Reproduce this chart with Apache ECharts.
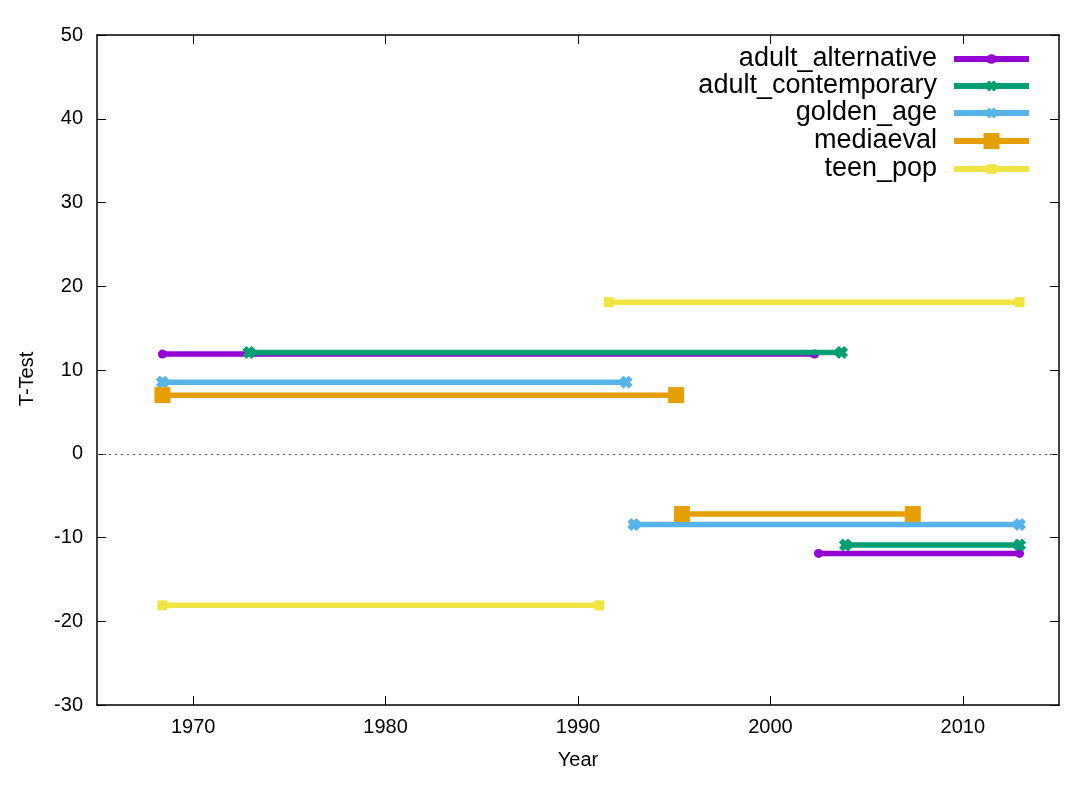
<!DOCTYPE html>
<html><head><meta charset="utf-8">
<script src="https://cdn.jsdelivr.net/npm/echarts@6/dist/echarts.min.js"></script>
<style>html,body{margin:0;padding:0;background:#fff}#c{width:1092px;height:788px}</style>
</head><body><div id="c"></div>
<script>
// Series names and colours
const seriesNames = ['adult_alternative','adult_contemporary','golden_age','mediaeval','teen_pop'];
const seriesColors = ['#9400d3','#009e73','#56b4e9','#e69f00','#f0e442'];
// Each series: two horizontal segments [startYear, endYear] with a T-Test value
const adultAlternativeYears = [[1968.4, 2002.3], [2002.5, 2012.95]];
const adultAlternativeT = [11.9, -11.9];
const adultContemporaryYears = [[1972.9, 2003.7], [2003.9, 2012.95]];
const adultContemporaryT = [12.1, -10.9];
const goldenAgeYears = [[1968.4, 1992.5], [1992.9, 2012.95]];
const goldenAgeT = [8.55, -8.45];
const mediaevalYears = [[1968.4, 1995.1], [1995.4, 2007.4]];
const mediaevalT = [7.0, -7.2];
const teenPopYears = [[1991.6, 2012.95], [1968.4, 1991.1]];
const teenPopT = [18.1, -18.1];
// Axis ticks
const xTicks = [1970, 1980, 1990, 2000, 2010];
const yTicks = [-30, -20, -10, 0, 10, 20, 30, 40, 50];

const crossPath = 'path://M3,0 L5,2 L7,0 L10,3 L8,5 L10,7 L7,10 L5,8 L3,10 L0,7 L2,5 L0,3 Z';
const symbols = ['circle', crossPath, crossPath, 'rect', 'rect'];
const symbolSizes = [9, 13, 13, 16, 10];
const legendIconSizes = [12, 14, 14, 20, 12];
const allYears = [adultAlternativeYears, adultContemporaryYears, goldenAgeYears, mediaevalYears, teenPopYears];
const allT = [adultAlternativeT, adultContemporaryT, goldenAgeT, mediaevalT, teenPopT];

const FONT = '"Liberation Sans", Arial, Helvetica, sans-serif';
const series = [];
seriesNames.forEach((name, i) => {
  allYears[i].forEach((seg, j) => {
    series.push({
      name: name, type: 'line',
      data: [[seg[0], allT[i][j]], [seg[1], allT[i][j]]],
      symbol: symbols[i], symbolSize: symbolSizes[i], showAllSymbol: true,
      lineStyle: {color: seriesColors[i], width: 5.5},
      itemStyle: {color: seriesColors[i], borderWidth: 0, opacity: 1},
      emphasis: {disabled: true},
      z: 2 + i
    });
  });
});
series[0].markLine = {
  silent: true, symbol: 'none', label: {show: false},
  lineStyle: {color: '#666', type: [2, 4], width: 1},
  data: [{yAxis: 0}]
};

const legendRowCenters = [58, 85, 112, 140, 168];
const legends = seriesNames.map((n, i) => ({
  data: [n], orient: 'vertical', right: 60, top: legendRowCenters[i] - 15, align: 'right',
  itemWidth: 75, itemHeight: legendIconSizes[i], selectedMode: false, padding: 0,
  lineStyle: {width: 6, color: seriesColors[i]},
  itemStyle: {color: seriesColors[i], borderWidth: 0},
  textStyle: {fontSize: 27, fontFamily: FONT, color: '#000', padding: [6, 12, 0, 0], lineHeight: 26}
}));

const axisCommon = {
  type: 'value', splitLine: {show: false},
  axisLine: {show: true, onZero: false, lineStyle: {color: '#000', width: 1.5}},
  axisTick: {show: true, inside: true, length: 9, lineStyle: {color: '#000', width: 1}}
};

const option = {
  animation: false,
  backgroundColor: '#fff',
  grid: {left: 97, right: 33, top: 35, bottom: 83},
  legend: legends,
  xAxis: [
    Object.assign({}, axisCommon, {
      min: 1965, max: 2015, position: 'bottom',
      name: 'Year', nameLocation: 'middle', nameGap: 45,
      nameTextStyle: {fontSize: 20, fontFamily: FONT, color: '#000'},
      axisTick: Object.assign({}, axisCommon.axisTick, {customValues: xTicks}),
      axisLabel: {customValues: xTicks, fontSize: 20, fontFamily: FONT, color: '#000', margin: 12,
        formatter: v => String(v)}
    }),
    Object.assign({}, axisCommon, {
      min: 1965, max: 2015, position: 'top',
      axisTick: Object.assign({}, axisCommon.axisTick, {customValues: xTicks}),
      axisLabel: {show: false}
    })
  ],
  yAxis: [
    Object.assign({}, axisCommon, {
      min: -30, max: 50, interval: 10, position: 'left',
      name: 'T-Test', nameLocation: 'middle', nameGap: 60, nameRotate: 90,
      nameTextStyle: {fontSize: 20, fontFamily: FONT, color: '#000', padding: [0, 18, 0, 0]},
      axisLabel: {fontSize: 20, fontFamily: FONT, color: '#000', margin: 14}
    }),
    Object.assign({}, axisCommon, {
      min: -30, max: 50, interval: 10, position: 'right',
      axisLabel: {show: false}
    })
  ],
  series: series
};
const chart = echarts.init(document.getElementById('c'), null, {renderer: 'canvas'});
chart.setOption(option);
</script></body></html>
